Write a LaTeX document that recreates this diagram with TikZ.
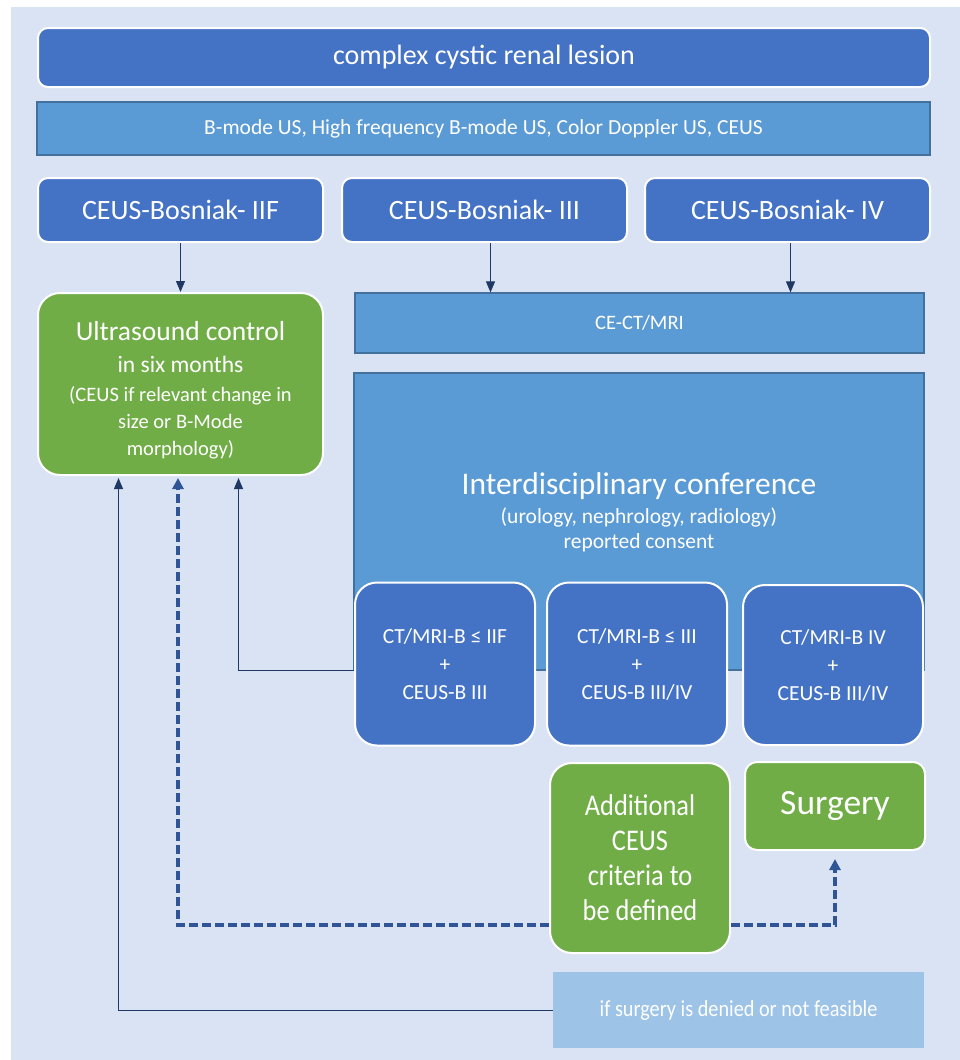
\documentclass[tikz,border=0pt]{standalone}
\usepackage{fontspec}
\setmainfont{Carlito}
\newfontfamily\narrowfont[FakeStretch=0.88]{Carlito}
\usetikzlibrary{arrows.meta}
\definecolor{bgblue}{HTML}{DAE3F3}
\definecolor{darkblue}{HTML}{4472C4}
\definecolor{midblue}{HTML}{5B9BD5}
\definecolor{edgeblue}{HTML}{41719C}
\definecolor{paleblue}{HTML}{9DC3E6}
\definecolor{leafgreen}{HTML}{70AD47}
\definecolor{navy}{HTML}{203864}
\definecolor{dashblue}{HTML}{2F5597}
\tikzset{
  darkbox/.style={draw=white, line width=2pt, fill=darkblue, rounded corners=10pt,
    text=white, align=center, inner sep=0pt},
  ctbox/.style={darkbox, rounded corners=22pt, minimum width=180pt,
    font=\fontsize{21.5}{28}\selectfont},
  greenbox/.style={draw=white, line width=2pt, fill=leafgreen, rounded corners=22pt,
    text=white, align=center, inner sep=0pt},
  midbox/.style={draw=edgeblue, line width=1.2pt, fill=midblue, text=white,
    align=center, inner sep=0pt},
  conn/.style={draw=navy, line width=1pt, -{Triangle[width=9pt,length=11pt]}},
  dashconn/.style={draw=dashblue, line width=3.2pt, dash pattern=on 9pt off 4pt}
}
\begin{document}
\begin{tikzpicture}[x=1pt,y=-1pt]
  \useasboundingbox (0,0) rectangle (960,1060);
  \fill[bgblue] (11,7) rectangle (960,1060);

  % lesion and imaging
  \node[darkbox, minimum width=892pt, minimum height=59pt, font=\fontsize{28}{32}\selectfont]
    (lesion) at (484,57.5) {complex cystic renal lesion};
  \node[midbox, minimum width=893pt, minimum height=53pt, font=\fontsize{21.5}{25}\selectfont]
    (modes) at (483.5,128.5) {B-mode US, High frequency B-mode US, Color Doppler US, CEUS};

  % CEUS Bosniak classes
  \node[darkbox, minimum width=285pt, minimum height=64pt, font=\fontsize{28}{32}\selectfont]
    (bosIIF) at (180.5,210) {CEUS-Bosniak- IIF};
  \node[darkbox, minimum width=285pt, minimum height=64pt, font=\fontsize{28}{32}\selectfont]
    (bosIII) at (484.5,210) {CEUS-Bosniak- III};
  \node[darkbox, minimum width=285pt, minimum height=64pt, font=\fontsize{28}{32}\selectfont]
    (bosIV) at (787.5,210) {CEUS-Bosniak- IV};

  \node[midbox, minimum width=569pt, minimum height=60pt, font=\fontsize{20.5}{24}\selectfont]
    (cect) at (639.5,323) {CE-CT/MRI};

  \node[greenbox, minimum width=285pt, minimum height=182pt, font=\fontsize{20.5}{27}\selectfont]
    (usctrl) at (180.5,384) {{\fontsize{27.5}{31}\selectfont\rule{0pt}{31pt}Ultrasound control}\\[5pt]
    {\fontsize{23.5}{28}\selectfont in six months}\\[2pt]
    (CEUS if relevant change in\\ size or B-Mode\\ morphology)};

  % conference
  \node[midbox, minimum width=570pt, minimum height=297pt] (conf) at (639,521.5) {};
  \node[text=white, align=center, font=\fontsize{21.5}{25}\selectfont]
    (conftext) at (639,512) {{\fontsize{31.5}{34}\selectfont Interdisciplinary conference}\\[4pt]
    (urology, nephrology, radiology)\\ reported consent};

  \node[ctbox, minimum height=163pt] (ctA) at (445,664)
    {CT/MRI-B ≤ IIF\\ +\\ CEUS-B III};
  \node[ctbox, minimum height=163pt] (ctB) at (637,664)
    {CT/MRI-B ≤ III\\ +\\ CEUS-B III/IV};
  \node[ctbox, minimum height=160pt] (ctC) at (833,665)
    {CT/MRI-B IV\\ +\\ CEUS-B III/IV};

  % outcomes
  \node[greenbox, minimum width=180pt, minimum height=190pt,
    font=\narrowfont\fontsize{30}{35}\selectfont]
    (addceus) at (640,858) {Additional\\ CEUS\\ criteria to\\ be defined};
  \node[greenbox, minimum width=180pt, minimum height=88pt, rounded corners=12pt,
    font=\fontsize{35.5}{40}\selectfont]
    (surgery) at (835,806) {Surgery};
  \node[fill=paleblue, minimum width=371pt, minimum height=76pt, text=white,
    font=\narrowfont\fontsize{23}{26}\selectfont]
    (denied) at (738.5,1010) {if surgery is denied or not feasible};

  % connectors
  \draw[conn] (bosIIF) -- (usctrl);
  \draw[conn] ([xshift=6pt]bosIII.south) -- ([xshift=6pt]bosIII.south |- cect.north);
  \draw[conn] ([xshift=3pt]bosIV.south) -- ([xshift=3pt]bosIV.south |- cect.north);
  \draw[conn] ([yshift=-6pt]ctA.west) -| ([xshift=58pt,yshift=-2pt]usctrl.south);
  \draw[conn] (denied.west) -| ([xshift=-62pt,yshift=-2pt]usctrl.south);

  \coordinate (dashturn) at (178,925);
  \draw[dashconn, -{Triangle[width=11pt,length=11pt]}]
    (dashturn -| addceus.west) -- (dashturn) -- ([yshift=-2pt]dashturn |- usctrl.south);
  \draw[dashconn, -{Triangle[width=11pt,length=11pt]}]
    (dashturn -| addceus.east) -| ([yshift=-8pt]surgery.south);
\end{tikzpicture}
\end{document}
